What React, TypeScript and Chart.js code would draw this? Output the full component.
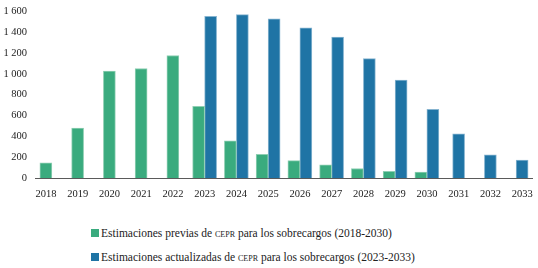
import React, { useEffect, useRef } from "react";
import { Chart, registerables } from "chart.js";

Chart.register(...registerables);

const years = ["2018","2019","2020","2021","2022","2023","2024","2025","2026","2027","2028","2029","2030","2031","2032","2033"];
const previas: (number | null)[] = [150, 480, 1025, 1050, 1175, 690, 360, 230, 170, 130, 95, 67, 60, null, null, null];
const actualizadas: (number | null)[] = [null, null, null, null, null, 1550, 1565, 1525, 1440, 1350, 1145, 940, 660, 425, 225, 175];
const yTicks = [0, 200, 400, 600, 800, 1000, 1200, 1400, 1600];

const GREEN = "#3aab7e";
const BLUE = "#1f74a5";
const FONT = "'Liberation Serif', 'DejaVu Serif', serif";

const axisLine = {
  id: "axisLine",
  afterDraw(chart: any) {
    const { ctx, chartArea, scales } = chart;
    const y = Math.round(scales.y.getPixelForValue(0)) + 0.5;
    ctx.save();
    ctx.strokeStyle = "#5a5a5a";
    ctx.lineWidth = 1.2;
    ctx.beginPath();
    ctx.moveTo(chartArea.left + 5, y);
    ctx.lineTo(chartArea.right - 5, y);
    ctx.stroke();
    ctx.restore();
  },
};

export default function App() {
  const ref = useRef<HTMLCanvasElement>(null);
  useEffect(() => {
    if (!ref.current) return;
    const chart = new Chart(ref.current, {
      type: "bar",
      data: {
        labels: years,
        datasets: [
          {
            label: "Estimaciones previas de CEPR para los sobrecargos (2018-2030)",
            data: previas,
            backgroundColor: GREEN,
            borderColor: "#8fcfb3",
            borderWidth: { top: 1, left: 1, right: 1, bottom: 0 },
            barThickness: 12,
            skipNull: true,
          },
          {
            label: "Estimaciones actualizadas de CEPR para los sobrecargos (2023-2033)",
            data: actualizadas,
            backgroundColor: BLUE,
            borderColor: "#86b4d0",
            borderWidth: { top: 1, left: 1, right: 1, bottom: 0 },
            barThickness: 12,
            skipNull: true,
          },
        ],
      } as any,
      options: {
        responsive: false,
        animation: false,
        devicePixelRatio: 1,
        layout: { padding: { top: 11, left: 0, right: 0, bottom: 0 } },
        plugins: { legend: { display: false }, tooltip: { enabled: false } },
        scales: {
          x: {
            grid: { display: false, drawTicks: true, tickLength: 7 },
            border: { display: false },
            ticks: { color: "#222", padding: 3, font: { family: FONT, size: 10.5 }, maxRotation: 0 },
          },
          y: {
            min: 0,
            max: 1600,
            afterFit: (s: any) => { s.width = 30; },
            afterBuildTicks: (s: any) => { s.ticks = yTicks.map((v) => ({ value: v })); },
            grid: { display: false, drawTicks: false },
            border: { display: false },
            ticks: {
              color: "#222",
              padding: 3,
              font: { family: FONT, size: 10.5 },
              callback: (v: any) => Number(v).toLocaleString("fr-FR").replace(/\u202f|\u00a0/g, " "),
            },
          },
        },
      },
      plugins: [axisLine],
    });
    return () => chart.destroy();
  }, []);

  const itemStyle: React.CSSProperties = {
    position: "absolute",
    left: 91,
    display: "flex",
    alignItems: "center",
    fontFamily: FONT,
    fontSize: 11.5,
    color: "#222",
    whiteSpace: "nowrap",
  };
  const sq = (c: string): React.CSSProperties => ({ width: 8, height: 8, background: c, marginRight: 2, flex: "none" });
  const sc: React.CSSProperties = { fontVariant: "small-caps" };

  return (
    <div style={{ position: "absolute", left: 0, top: 0, width: 538, height: 268, background: "#fff" }}>
      <canvas ref={ref} width={538} height={204} style={{ position: "absolute", left: 0, top: 0 }} />
      <div style={{ ...itemStyle, top: 227 }}>
        <span style={sq(GREEN)} />
        <span>Estimaciones previas de <span style={sc}>cepr</span> para los sobrecargos (2018-2030)</span>
      </div>
      <div style={{ ...itemStyle, top: 251 }}>
        <span style={sq(BLUE)} />
        <span>Estimaciones actualizadas de <span style={sc}>cepr</span> para los sobrecargos (2023-2033)</span>
      </div>
    </div>
  );
}
